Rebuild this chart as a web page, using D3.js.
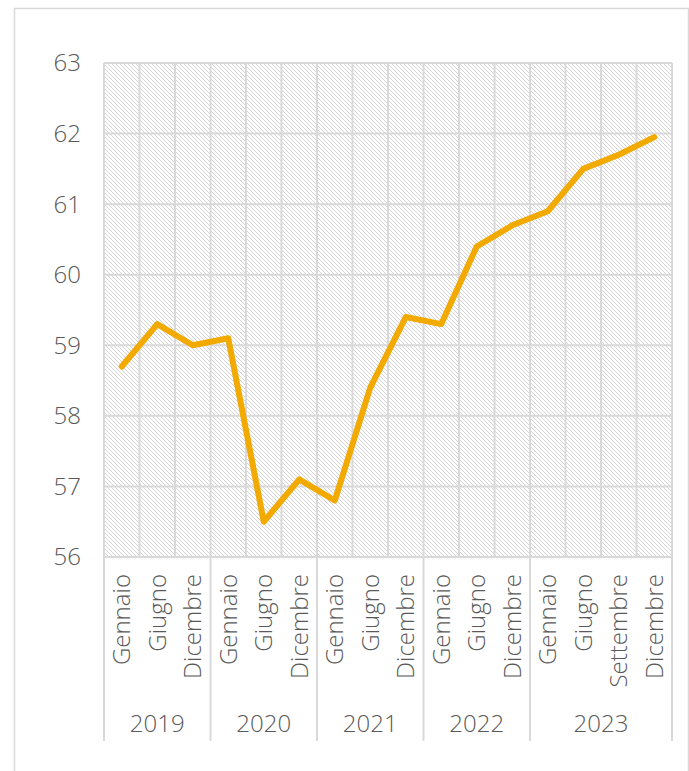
<!DOCTYPE html>
<html>
<head>
<meta charset="utf-8">
<script src="https://cdn.jsdelivr.net/npm/d3@7"></script>
<style>
  html, body { margin: 0; padding: 0; background: #fff; }
  svg { display: block; }
  text { font-family: "Open Sans", sans-serif; font-weight: 300; fill: #595959; }
</style>
</head>
<body>
<div id="vis"></div>
<script>
const WIDTH = 689;
const HEIGHT = 771;

// data
const years = ["2019", "2020", "2021", "2022", "2023"];
const months = [
	["Gennaio", "Giugno", "Dicembre"],
	["Gennaio", "Giugno", "Dicembre"],
	["Gennaio", "Giugno", "Dicembre"],
	["Gennaio", "Giugno", "Dicembre"],
	["Gennaio", "Giugno", "Settembre", "Dicembre"]
];
const values = [58.7, 59.3, 59.0, 59.1, 56.5, 57.1, 56.8, 58.4, 59.4, 59.3, 60.4, 60.7, 60.9, 61.5, 61.7, 61.95];
const yTicks = [56, 57, 58, 59, 60, 61, 62, 63];

// flatten into one list of categories
const cats = [];
months.forEach((ms, i) => ms.forEach(m => cats.push({ year: years[i], month: m, key: years[i] + "-" + m })));
cats.forEach((c, i) => c.value = values[i]);

const margin = { left: 104, right: 17, top: 63, bottom: 214 };
const FONT = "24px";

const svg = d3.select("#vis").append("svg")
	.attr("width", WIDTH)
	.attr("height", HEIGHT);

// outer frame
svg.append("rect")
	.attr("x", 14.5).attr("y", 8.5)
	.attr("width", WIDTH - 15).attr("height", HEIGHT)
	.attr("fill", "none")
	.attr("stroke", "#d9d9d9")
	.attr("stroke-width", 1.5);

// hatch pattern for the plot background
const pat = svg.append("defs").append("pattern")
	.attr("id", "hatch")
	.attr("patternUnits", "userSpaceOnUse")
	.attr("width", 4).attr("height", 4);
pat.append("path")
	.attr("d", "M0,0 L4,4 M-1,3 L1,5 M3,-1 L5,1")
	.attr("stroke", "#cfcfcf")
	.attr("stroke-width", 0.9);

const x = d3.scaleBand()
	.domain(cats.map(d => d.key))
	.range([margin.left, WIDTH - margin.right]);

const y = d3.scaleLinear()
	.domain([56, 63])
	.range([HEIGHT - margin.bottom, margin.top]);

const plotBottom = y(56);
const plotTop = y(63);

svg.append("rect")
	.attr("x", x.range()[0]).attr("y", plotTop)
	.attr("width", x.range()[1] - x.range()[0])
	.attr("height", plotBottom - plotTop)
	.attr("fill", "url(#hatch)");

const grid = svg.append("g")
	.attr("stroke", "#d9d9d9")
	.attr("stroke-width", 2);

// horizontal gridlines
grid.selectAll(".h")
	.data(yTicks)
	.enter().append("line")
	.attr("x1", x.range()[0]).attr("x2", x.range()[1])
	.attr("y1", d => y(d)).attr("y2", d => y(d));

// vertical gridlines at category boundaries
const bounds = cats.map(d => x(d.key)).concat([x.range()[1]]);
grid.selectAll(".v")
	.data(bounds)
	.enter().append("line")
	.attr("x1", d => d).attr("x2", d => d)
	.attr("y1", plotTop).attr("y2", plotBottom);

// year group boundaries below the plot
const groupStarts = [];
let idx = 0;
months.forEach(ms => { groupStarts.push(idx); idx += ms.length; });
const groupBounds = groupStarts.map(i => x(cats[i].key)).concat([x.range()[1]]);
grid.selectAll(".g")
	.data(groupBounds)
	.enter().append("line")
	.attr("x1", d => d).attr("x2", d => d)
	.attr("y1", plotBottom).attr("y2", 741);

// y axis labels
svg.selectAll(".ytick")
	.data(yTicks)
	.enter().append("text")
	.attr("x", 81)
	.attr("y", d => y(d))
	.attr("dy", "0.35em")
	.attr("text-anchor", "end")
	.style("font-size", FONT)
	.text(d => d);

// month labels, rotated
svg.selectAll(".xlab")
	.data(cats)
	.enter().append("text")
	.attr("transform", d => `translate(${x(d.key) + x.bandwidth() / 2},${plotBottom + 17}) rotate(-90)`)
	.attr("dy", "0.35em")
	.attr("text-anchor", "end")
	.style("font-size", FONT)
	.text(d => d.month);

// year labels
svg.selectAll(".ylab")
	.data(years)
	.enter().append("text")
	.attr("x", (d, i) => (groupBounds[i] + groupBounds[i + 1]) / 2)
	.attr("y", 732)
	.attr("text-anchor", "middle")
	.style("font-size", FONT)
	.text(d => d);

// the line
const line = d3.line()
	.x(d => x(d.key) + x.bandwidth() / 2)
	.y(d => y(d.value));

svg.append("path")
	.datum(cats)
	.attr("d", line)
	.attr("fill", "none")
	.attr("stroke", "#f2a900")
	.attr("stroke-width", 6)
	.attr("stroke-linejoin", "round")
	.attr("stroke-linecap", "round");
</script>
</body>
</html>
